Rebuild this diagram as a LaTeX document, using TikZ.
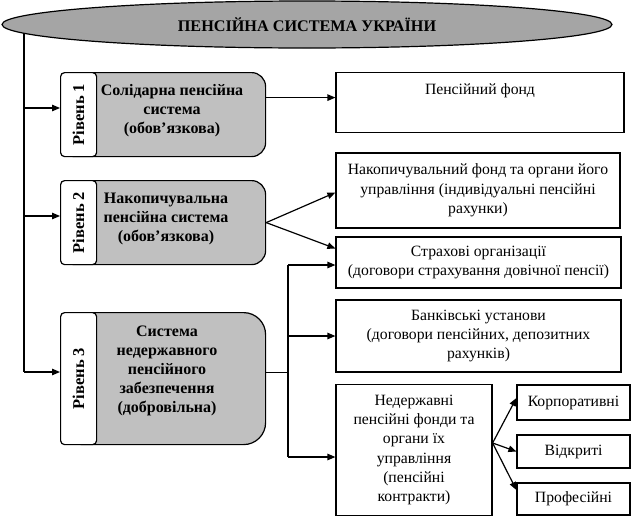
\documentclass[tikz,border=0pt]{standalone}
\usepackage{fontspec}
\setmainfont{Liberation Serif}
\usetikzlibrary{shapes.geometric,arrows.meta}
\definecolor{ellgray}{RGB}{165,165,165}
\definecolor{boxgray}{RGB}{192,192,192}
\tikzset{
  line/.style={line width=1.2pt},
  arr/.style={line width=1.2pt,-{Triangle[length=8pt,width=6.5pt]}},
  graybox/.style={draw,line width=1.2pt,fill=boxgray,minimum width=205pt,anchor=north west},
  tabbox/.style={draw,line width=1.2pt,fill=white,rounded corners=4pt,minimum width=36pt,anchor=north west},
  tabtext/.style={rotate=90,font=\fontsize{16.5}{18}\selectfont\bfseries,inner sep=0pt},
  graytext/.style={align=center,font=\fontsize{16}{19}\selectfont\bfseries,inner sep=0pt},
  rbox/.style={draw,line width=1.2pt,align=center,font=\fontsize{15.7}{19.3}\selectfont,inner sep=0pt},
}
\begin{document}
\begin{tikzpicture}[x=1pt,y=-1pt]
\useasboundingbox (0,0) rectangle (637,517);
% title
\node[ellipse,draw,line width=1.2pt,fill=ellgray,minimum width=610pt,minimum height=47pt,
      font=\fontsize{16.2}{18}\selectfont\bfseries] (title) at (307,24.5) {ПЕНСІЙНА СИСТЕМА УКРАЇНИ};
% level boxes
\node[graybox,rounded corners=14pt,minimum height=84pt] (g1) at (60,72) {};
\node[tabbox,minimum height=84pt] (t1) at (60,72) {};
\node[tabtext] (r1) at (t1.center) {Рівень 1};
\node[graytext] (x1) at (172,111) {Солідарна пенсійна\\система\\(обов’язкова)};

\node[graybox,rounded corners=14pt,minimum height=84pt] (g2) at (60,180) {};
\node[tabbox,minimum height=84pt] (t2) at (60,180) {};
\node[tabtext] (r2) at (t2.center) {Рівень 2};
\node[graytext] (x2) at (166,219) {Накопичувальна\\пенсійна система\\(обов’язкова)};

\node[graybox,rounded corners=22pt,minimum height=132pt] (g3) at (60,312) {};
\node[tabbox,minimum height=132pt] (t3) at (60,312) {};
\node[tabtext] (r3) at (t3.center) {Рівень 3};
\node[graytext] (x3) at (167,371) {Система\\недержавного\\пенсійного\\забезпечення\\(добровільна)};
% right boxes
\node[rbox,minimum width=288pt,minimum height=60pt,anchor=north,text height=16pt,text depth=32pt,inner ysep=6pt] (fond) at (480,72) {Пенсійний фонд};
\node[rbox,minimum width=284pt,minimum height=75pt] (nak) at (478,190.5) {Накопичувальний фонд та органи його\\управління (індивідуальні пенсійні\\рахунки)};
\node[rbox,minimum width=285pt,minimum height=51pt] (strah) at (478.5,262.5) {Страхові організації\\(договори страхування довічної пенсії)};
\node[rbox,minimum width=285pt,minimum height=72pt] (bank) at (478.5,336) {Банківські установи\\(договори пенсійних, депозитних\\рахунків)};
\node[rbox,minimum width=156pt,minimum height=131pt] (ned) at (414,450) {Недержавні\\пенсійні фонди та\\органи їх\\управління\\(пенсійні\\контракти)};
\node[rbox,minimum width=113pt,minimum height=35pt] (korp) at (573.5,402.5) {Корпоративні};
\node[rbox,minimum width=113pt,minimum height=33pt] (vidk) at (573.5,451.5) {Відкриті};
\node[rbox,minimum width=113pt,minimum height=32pt] (prof) at (573.5,499) {Професійні};
% spine
\coordinate (spine) at (24,33);
\coordinate (a1) at (60,108);
\coordinate (a2) at (60,216);
\coordinate (a3) at (60,372);
\draw[line] (spine) -- (spine |- a3);
\draw[arr] (a1 -| spine) -- (a1);
\draw[arr] (a2 -| spine) -- (a2);
\draw[arr] (a3 -| spine) -- (a3);
% level 1
\coordinate (o1) at ([yshift=17pt]g1.east);
\draw[arr] (o1) -- (o1 -| fond.west);
% level 2
\draw[arr] (g2.east) -- ([yshift=-2pt]nak.west);
\draw[arr] (g2.east) -- ([yshift=14pt]strah.west);
% level 3
\coordinate (o3) at ([yshift=6pt]g3.east);
\coordinate (bus) at (288,0);
\coordinate (n3in) at ([yshift=-7pt]ned.west);
\coordinate (s3in) at ([yshift=-2.5pt]strah.west);
\draw[line] (o3) -- (o3 -| bus);
\draw[line] (s3in -| bus) -- (n3in -| bus);
\draw[arr] (s3in -| bus) -- (s3in);
\draw[arr] (bank.west -| bus) -- (bank.west);
\draw[arr] (n3in -| bus) -- (n3in);
% ned fan
\coordinate (nf) at ([yshift=7pt]ned.east);
\draw[arr] (nf) -- ([yshift=4.5pt]korp.west);
\draw[arr] (nf) -- (vidk.west);
\draw[arr] (nf) -- ([yshift=9pt]prof.west);
\end{tikzpicture}
\end{document}
